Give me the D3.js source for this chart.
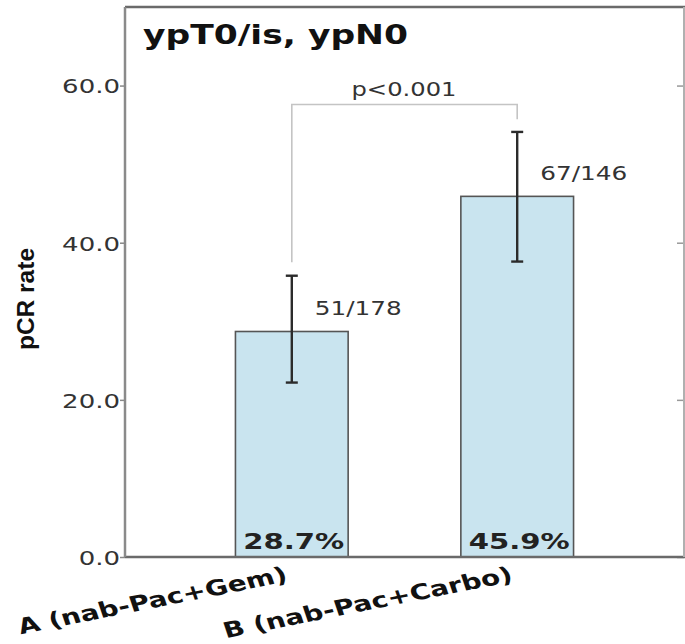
<!DOCTYPE html>
<html>
<head>
<meta charset="utf-8">
<script src="https://cdn.jsdelivr.net/npm/d3@7"></script>
<style>
  html, body { margin: 0; padding: 0; background: #fff; }
  svg { display: block; }
</style>
</head>
<body>
<svg id="chart" width="685" height="644"></svg>
<script>
// pCR rate by treatment arm (ypT0/is, ypN0)
const categories = ["A (nab-Pac+Gem)", "B (nab-Pac+Carbo)"];
const rates = [28.7, 45.9];
const ciLow = [22.2, 37.6];
const ciHigh = [35.8, 54.1];
const counts = ["51/178", "67/146"];
const yTicks = [0, 20, 40, 60];
const pValue = "p<0.001";
const bracketTop = 57.6;
const bracketFeet = [37.5, 55.7];
const title = "ypT0/is, ypN0";
const yTitle = "pCR rate";

const W = 685, H = 644;
const plot = { left: 125, right: 684, top: 7, bottom: 557 };
const sx = 1.3; // horizontal stretch of the figure's text

const svg = d3.select("#chart");

const x = d3.scaleBand()
  .domain(categories)
  .range([plot.left, plot.right])
  .paddingInner(0.5)
  .paddingOuter(0.49);

const y = d3.scaleLinear()
  .domain([0, 70])
  .range([plot.bottom, plot.top]);

const cx = c => x(c) + x.bandwidth() / 2;

// Bars
svg.append("g").selectAll("rect")
  .data(categories)
  .join("rect")
  .attr("x", d => x(d))
  .attr("y", (d, i) => y(rates[i]))
  .attr("width", x.bandwidth())
  .attr("height", (d, i) => y(0) - y(rates[i]))
  .attr("fill", "#c9e4ef")
  .attr("stroke", "#555")
  .attr("stroke-width", 1.6);

// Significance bracket
const bx0 = cx(categories[0]), bx1 = cx(categories[1]);
svg.append("path")
  .attr("d", d3.line()([
    [bx0, y(bracketFeet[0])], [bx0, y(bracketTop)],
    [bx1, y(bracketTop)], [bx1, y(bracketFeet[1])]
  ]))
  .attr("fill", "none")
  .attr("stroke", "#c4c4c4")
  .attr("stroke-width", 1.6);

svg.append("text")
  .attr("x", (bx0 + bx1) / 2 - 0.5)
  .attr("y", y(bracketTop) - 8)
  .attr("text-anchor", "middle")
  .attr("font-family", "DejaVu Sans")
  .attr("font-size", 19)
  .attr("fill", "#333")
  .attr("textLength", 105)
  .attr("lengthAdjust", "spacingAndGlyphs")
  .text(pValue);

// Error bars
const eb = svg.append("g").attr("stroke", "#2b2b2b").attr("stroke-width", 2.4);
categories.forEach((c, i) => {
  const xc = cx(c);
  eb.append("line").attr("x1", xc).attr("x2", xc).attr("y1", y(ciLow[i])).attr("y2", y(ciHigh[i]));
  eb.append("line").attr("x1", xc - 6).attr("x2", xc + 6).attr("y1", y(ciLow[i])).attr("y2", y(ciLow[i]));
  eb.append("line").attr("x1", xc - 6).attr("x2", xc + 6).attr("y1", y(ciHigh[i])).attr("y2", y(ciHigh[i]));
});

// Count labels next to the bar tops
svg.append("g").selectAll("text")
  .data(categories)
  .join("text")
  .attr("x", d => cx(d) + 23)
  .attr("y", (d, i) => y(rates[i] + 2.1))
  .attr("font-family", "DejaVu Sans")
  .attr("font-size", 20)
  .attr("fill", "#333")
  .attr("textLength", 87)
  .attr("lengthAdjust", "spacingAndGlyphs")
  .text((d, i) => counts[i]);

// Percent labels at the bar bases
svg.append("g").selectAll("text")
  .data(categories)
  .join("text")
  .attr("x", d => cx(d) + 2)
  .attr("y", y(0) - 8)
  .attr("text-anchor", "middle")
  .attr("font-family", "DejaVu Sans")
  .attr("font-weight", "bold")
  .attr("font-size", 22)
  .attr("fill", "#222")
  .attr("textLength", 101)
  .attr("lengthAdjust", "spacingAndGlyphs")
  .text((d, i) => rates[i].toFixed(1) + "%");

// Y axis (left, outward ticks with labels)
const yAxis = svg.append("g")
  .attr("transform", `translate(${plot.left},0)`)
  .call(d3.axisLeft(y).tickValues(yTicks).tickFormat(d3.format(".1f")).tickSize(5).tickPadding(0));
yAxis.select(".domain").remove();
yAxis.selectAll(".tick line").attr("stroke", "#888").attr("stroke-width", 1.5);
yAxis.selectAll(".tick text")
  .attr("x", null).attr("dy", null)
  .attr("dominant-baseline", "central")
  .attr("transform", `translate(-5,0) scale(${sx},1)`)
  .attr("font-family", "DejaVu Sans")
  .attr("font-size", 20)
  .attr("fill", "#333");

// Right-side inward ticks
const yRight = svg.append("g")
  .attr("transform", `translate(${plot.right},0)`)
  .call(d3.axisLeft(y).tickValues(yTicks).tickFormat("").tickSize(7));
yRight.select(".domain").remove();
yRight.selectAll(".tick line").attr("stroke", "#999").attr("stroke-width", 1.5);

// Frame
const frame = svg.append("g").attr("fill", "none");
frame.append("line").attr("x1", plot.left).attr("x2", plot.right + 1).attr("y1", plot.top).attr("y2", plot.top)
  .attr("stroke", "#6a6a6a").attr("stroke-width", 2.5);
frame.append("line").attr("x1", plot.left).attr("x2", plot.right + 1).attr("y1", plot.bottom).attr("y2", plot.bottom)
  .attr("stroke", "#6a6a6a").attr("stroke-width", 2.5);
frame.append("line").attr("x1", plot.left).attr("x2", plot.left).attr("y1", plot.top).attr("y2", plot.bottom)
  .attr("stroke", "#8a8a8a").attr("stroke-width", 2.5);
frame.append("line").attr("x1", plot.right).attr("x2", plot.right).attr("y1", plot.top).attr("y2", plot.bottom)
  .attr("stroke", "#b0b0b0").attr("stroke-width", 2);

// Title inside the frame
svg.append("text")
  .attr("x", 143)
  .attr("y", 44)
  .attr("font-family", "DejaVu Sans")
  .attr("font-weight", "bold")
  .attr("font-size", 27)
  .attr("fill", "#111")
  .attr("textLength", 265)
  .attr("lengthAdjust", "spacingAndGlyphs")
  .text(title);

// Y axis title
svg.append("text")
  .attr("transform", `translate(34,299) rotate(-90)`)
  .attr("text-anchor", "middle")
  .attr("font-family", "Liberation Sans Narrow, Liberation Sans, sans-serif")
  .attr("font-weight", "bold")
  .attr("font-size", 24)
  .attr("fill", "#111")
  .attr("textLength", 102)
  .attr("lengthAdjust", "spacingAndGlyphs")
  .text(yTitle);

// Rotated category labels
svg.append("g").selectAll("text")
  .data(categories)
  .join("text")
  .attr("transform", d => `translate(${cx(d) - 3},581) scale(${sx},1) rotate(-14.5)`)
  .attr("text-anchor", "end")
  .attr("font-family", "DejaVu Sans")
  .attr("font-weight", "bold")
  .attr("font-size", 21.5)
  .attr("fill", "#111")
  .text(d => d);
</script>
</body>
</html>
